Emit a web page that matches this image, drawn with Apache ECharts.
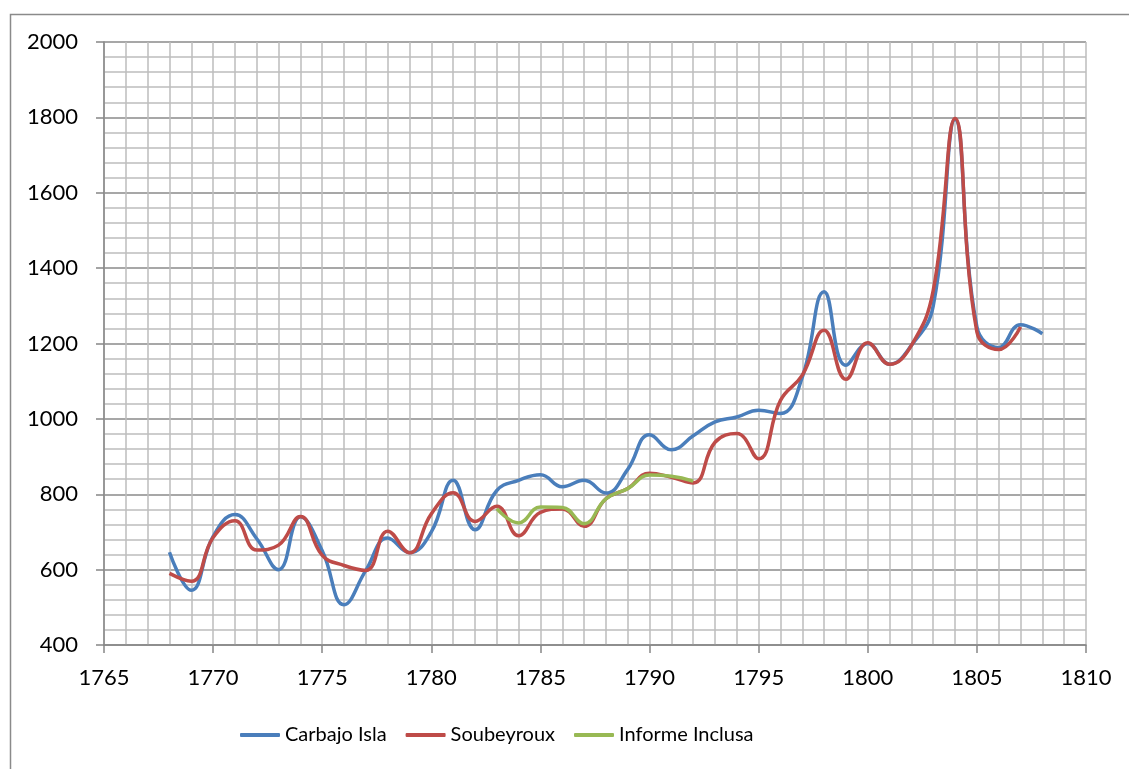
<!DOCTYPE html>
<html>
<head>
<meta charset="utf-8">
<script src="https://cdn.jsdelivr.net/npm/echarts@6/dist/echarts.min.js"></script>
<style>
html, body { margin: 0; padding: 0; background: #fff; }
#main { width: 1129px; height: 769px; }
</style>
</head>
<body>
<div id="main"></div>
<script>
// years for each series
var yearsCarbajo = [1768, 1769, 1770, 1771, 1772, 1773, 1774, 1775, 1776, 1777,
    1778, 1779, 1780, 1781, 1782, 1783, 1784, 1785, 1786, 1787,
    1788, 1789, 1790, 1791, 1792, 1793, 1794, 1795, 1796, 1797,
    1798, 1799, 1800, 1801, 1802, 1803, 1804, 1805, 1806, 1807, 1808];
var carbajoIsla = [646, 545, 688, 746, 682, 600, 740, 650, 507, 598,
    684, 645, 700, 837, 706, 810, 837, 852, 820, 837,
    803, 866, 958, 918, 955, 992, 1005, 1023, 1014, 1111,
    1337, 1142, 1200, 1145, 1195, 1300, 1795, 1244, 1189, 1250, 1226];

var yearsSoubeyroux = yearsCarbajo.slice(0, 40);
var soubeyroux = [590, 569, 685, 730, 652, 665, 741, 638, 611, 598,
    702, 645, 748, 804, 728, 768, 690, 752, 761, 715,
    788, 815, 856, 845, 830, 938, 961, 894, 1049, 1116,
    1235, 1105, 1202, 1145, 1195, 1341, 1797, 1231, 1184, 1244];

var yearsInforme = [1783, 1784, 1785, 1786, 1787, 1788, 1789, 1790, 1791, 1792];
var informeInclusa = [762, 724, 766, 765, 722, 788, 815, 851, 848, 835];

function pairs(xs, ys) {
    var out = [];
    for (var i = 0; i < xs.length; i++) out.push([xs[i], ys[i]]);
    return out;
}

var font = 'Lato';

option = {
    animation: false,
    backgroundColor: '#fff',
    color: ['#4a7ebb', '#be4b48', '#98b954'],
    graphic: [{
        type: 'rect',
        left: 8, top: 12,
        shape: { width: 1300, height: 900 },
        style: { fill: 'none', stroke: '#8a8a8a', lineWidth: 1.5 },
        silent: true
    }],
    legend: {
        left: 240,
        top: 725,
        padding: 0,
        icon: 'roundRect',
        itemWidth: 40,
        itemHeight: 4,
        itemGap: 19,
        textStyle: { fontFamily: font, fontSize: 20, color: '#000' },
        data: ['Carbajo Isla', 'Soubeyroux', 'Informe Inclusa']
    },
    grid: {
        left: 104,
        right: 43,
        top: 42,
        bottom: 124
    },
    xAxis: {
        type: 'value',
        min: 1765,
        max: 1810,
        interval: 5,
        axisLine: { lineStyle: { color: '#868686', width: 1.5 } },
        axisTick: { show: true, length: 8, lineStyle: { color: '#868686', width: 1.5 } },
        axisLabel: { fontFamily: font, fontSize: 22, color: '#000', margin: 22,
            formatter: function (v) { return String(v); } },
        splitLine: { show: true, lineStyle: { color: '#bdbdbd', width: 1.5 } },
        minorTick: { show: false, splitNumber: 5 },
        minorSplitLine: { show: true, lineStyle: { color: '#bdbdbd', width: 1.5 } }
    },
    yAxis: {
        type: 'value',
        min: 400,
        max: 2000,
        interval: 200,
        axisLine: { show: true, lineStyle: { color: '#868686', width: 1.5 } },
        axisTick: { show: true, length: 8, lineStyle: { color: '#868686', width: 1.5 } },
        axisLabel: { fontFamily: font, fontSize: 22, color: '#000', margin: 26,
            formatter: function (v) { return String(v); } },
        splitLine: { show: true, lineStyle: { color: '#8a8a8a', width: 1.5 } },
        minorTick: { show: false, splitNumber: 5 },
        minorSplitLine: { show: true, lineStyle: { color: '#bdbdbd', width: 1.5 } }
    },
    series: [
        {
            name: 'Carbajo Isla',
            type: 'line',
            smooth: 0.45,
            symbol: 'none',
            lineStyle: { width: 3.5 },
            data: pairs(yearsCarbajo, carbajoIsla)
        },
        {
            name: 'Soubeyroux',
            type: 'line',
            smooth: 0.45,
            symbol: 'none',
            lineStyle: { width: 3.5 },
            data: pairs(yearsSoubeyroux, soubeyroux)
        },
        {
            name: 'Informe Inclusa',
            type: 'line',
            smooth: 0.45,
            symbol: 'none',
            lineStyle: { width: 3.5 },
            data: pairs(yearsInforme, informeInclusa)
        }
    ]
};

var myChart = echarts.init(document.getElementById('main'));
myChart.setOption(option);
</script>
</body>
</html>
